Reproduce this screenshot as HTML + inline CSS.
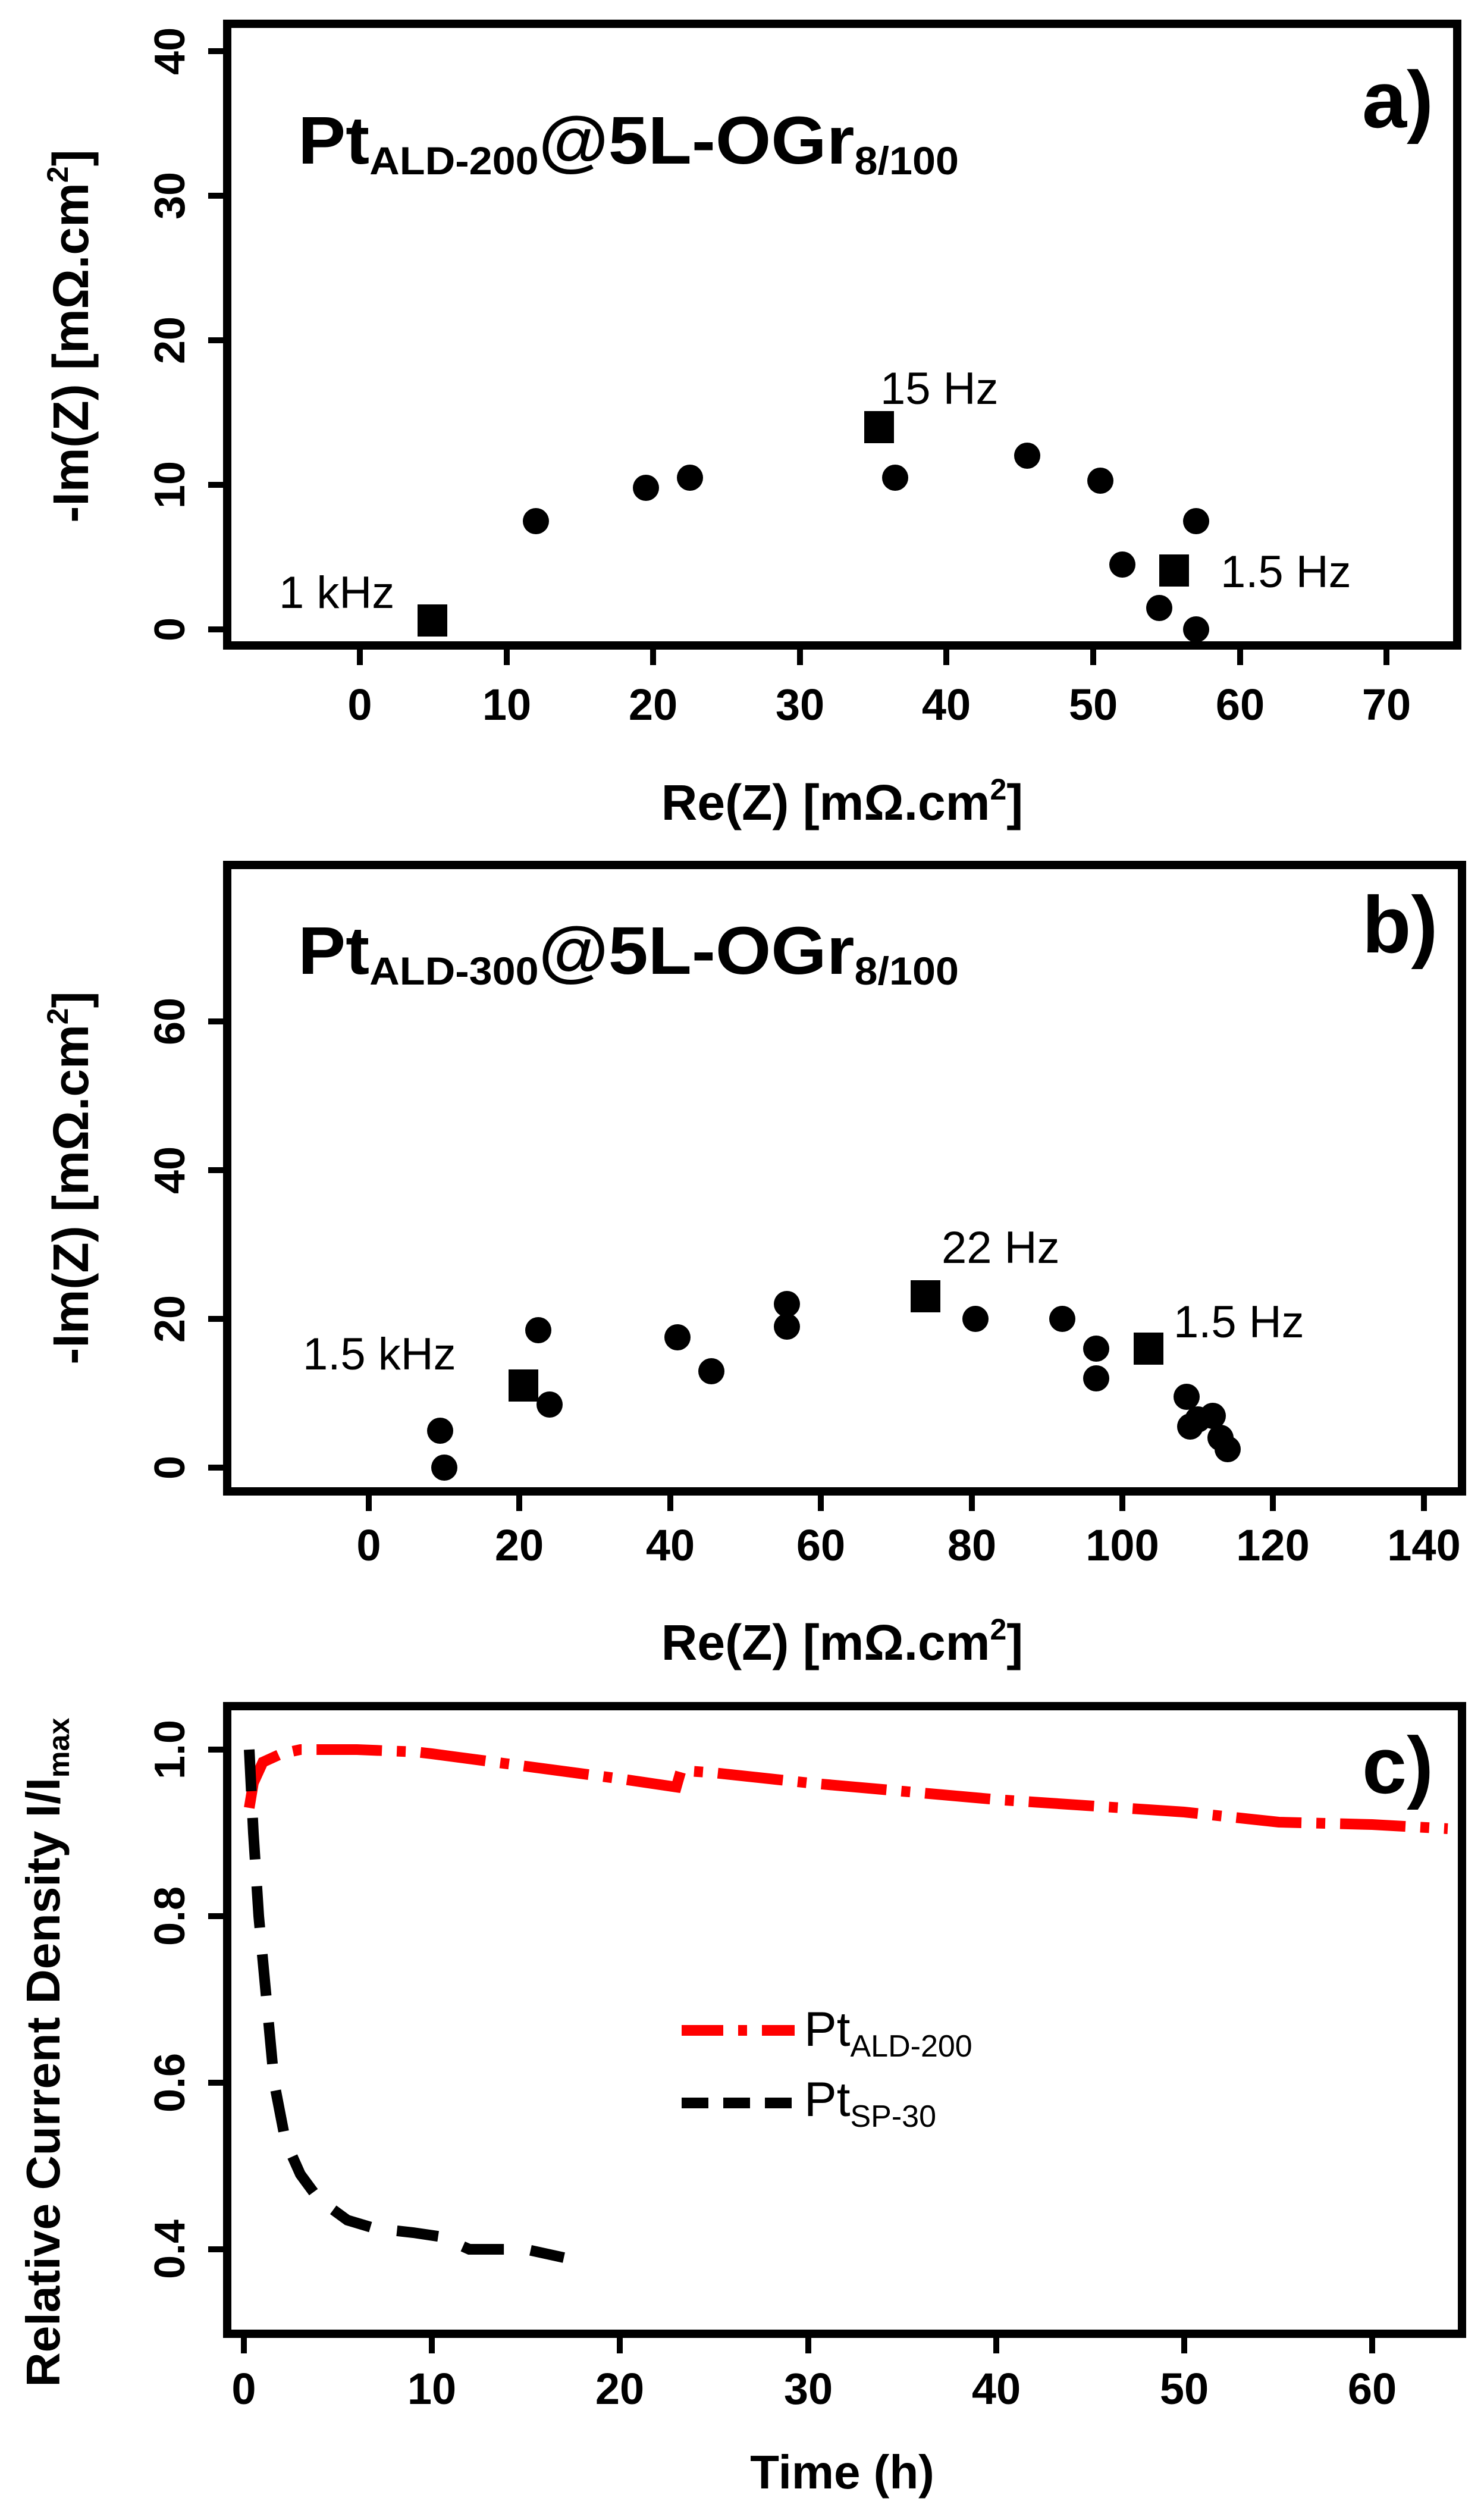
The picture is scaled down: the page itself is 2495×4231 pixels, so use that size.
<!DOCTYPE html>
<html><head><meta charset="utf-8"><style>
html,body{margin:0;padding:0;background:#fff}
svg{display:block}
text{font-family:"Liberation Sans",Arial,sans-serif;fill:#000}
.b{font-weight:bold}
</style></head><body>
<svg width="2495" height="4231" viewBox="0 0 2495 4231" xmlns="http://www.w3.org/2000/svg">
<!-- ================= PANEL A ================= -->
<g>
<rect x="382" y="40" width="2068" height="1045" fill="none" stroke="#000" stroke-width="14"/>
<g stroke="#000" stroke-width="10">
<line x1="350" y1="1058" x2="382" y2="1058"/><line x1="350" y1="815" x2="382" y2="815"/><line x1="350" y1="572" x2="382" y2="572"/><line x1="350" y1="329" x2="382" y2="329"/><line x1="350" y1="86" x2="382" y2="86"/>
</g>
<g class="b" font-size="72" text-anchor="middle">
<text transform="translate(310,1058) rotate(-90)">0</text>
<text transform="translate(310,815) rotate(-90)">10</text>
<text transform="translate(310,572) rotate(-90)">20</text>
<text transform="translate(310,329) rotate(-90)">30</text>
<text transform="translate(310,86) rotate(-90)">40</text>
</g>
<g stroke="#000" stroke-width="10">
<line x1="605" y1="1085" x2="605" y2="1118"/><line x1="852" y1="1085" x2="852" y2="1118"/><line x1="1098" y1="1085" x2="1098" y2="1118"/><line x1="1345" y1="1085" x2="1345" y2="1118"/><line x1="1591" y1="1085" x2="1591" y2="1118"/><line x1="1838" y1="1085" x2="1838" y2="1118"/><line x1="2085" y1="1085" x2="2085" y2="1118"/><line x1="2331" y1="1085" x2="2331" y2="1118"/>
</g>
<g class="b" font-size="74" text-anchor="middle">
<text x="605" y="1210">0</text><text x="852" y="1210">10</text><text x="1098" y="1210">20</text><text x="1345" y="1210">30</text><text x="1591" y="1210">40</text><text x="1838" y="1210">50</text><text x="2085" y="1210">60</text><text x="2331" y="1210">70</text>
</g>
<text class="b" x="1416" y="1378" font-size="84" text-anchor="middle">Re(Z) [mΩ.cm<tspan font-size="50" dy="-34">2</tspan><tspan dy="34">]</tspan></text>
<text class="b" transform="translate(148,565) rotate(-90)" font-size="84" text-anchor="middle">-Im(Z) [mΩ.cm<tspan font-size="50" dy="-34">2</tspan><tspan dy="34">]</tspan></text>
<text class="b" x="501" y="275" font-size="113" textLength="1111" lengthAdjust="spacingAndGlyphs">Pt<tspan font-size="66" dy="18">ALD-200</tspan><tspan dy="-18">@5L-OGr</tspan><tspan font-size="66" dy="18">8/100</tspan></text>
<text class="b" x="2290" y="214" font-size="135">a)</text>
<g fill="#000">
<circle cx="901" cy="876" r="22"/><circle cx="1086" cy="820" r="22"/><circle cx="1160" cy="803" r="22"/><circle cx="1505" cy="803" r="22"/><circle cx="1727" cy="766" r="22"/><circle cx="1850" cy="808" r="22"/><circle cx="2011" cy="876" r="22"/><circle cx="1887" cy="949" r="22"/><circle cx="1949" cy="1022" r="22"/><circle cx="2011" cy="1058" r="22"/>
<rect x="702" y="1016" width="50" height="54"/><rect x="1453" y="691" width="50" height="54"/><rect x="1949" y="932" width="50" height="54"/>
</g>
<g font-size="76">
<text x="469" y="1022">1 kHz</text><text x="1480" y="679">15 Hz</text><text x="2052" y="987">1.5 Hz</text>
</g>
</g>
<!-- ================= PANEL B ================= -->
<g>
<rect x="382" y="1454" width="2076" height="1053" fill="none" stroke="#000" stroke-width="14"/>
<g stroke="#000" stroke-width="10">
<line x1="350" y1="2467" x2="382" y2="2467"/><line x1="350" y1="2217" x2="382" y2="2217"/><line x1="350" y1="1967" x2="382" y2="1967"/><line x1="350" y1="1717" x2="382" y2="1717"/>
</g>
<g class="b" font-size="72" text-anchor="middle">
<text transform="translate(310,2467) rotate(-90)">0</text>
<text transform="translate(310,2217) rotate(-90)">20</text>
<text transform="translate(310,1967) rotate(-90)">40</text>
<text transform="translate(310,1717) rotate(-90)">60</text>
</g>
<g stroke="#000" stroke-width="10">
<line x1="620" y1="2507" x2="620" y2="2540"/><line x1="873" y1="2507" x2="873" y2="2540"/><line x1="1127" y1="2507" x2="1127" y2="2540"/><line x1="1380" y1="2507" x2="1380" y2="2540"/><line x1="1634" y1="2507" x2="1634" y2="2540"/><line x1="1887" y1="2507" x2="1887" y2="2540"/><line x1="2140" y1="2507" x2="2140" y2="2540"/><line x1="2394" y1="2507" x2="2394" y2="2540"/>
</g>
<g class="b" font-size="74" text-anchor="middle">
<text x="620" y="2623">0</text><text x="873" y="2623">20</text><text x="1127" y="2623">40</text><text x="1380" y="2623">60</text><text x="1634" y="2623">80</text><text x="1887" y="2623">100</text><text x="2140" y="2623">120</text><text x="2394" y="2623">140</text>
</g>
<text class="b" x="1416" y="2790" font-size="84" text-anchor="middle">Re(Z) [mΩ.cm<tspan font-size="50" dy="-34">2</tspan><tspan dy="34">]</tspan></text>
<text class="b" transform="translate(148,1980) rotate(-90)" font-size="84" text-anchor="middle">-Im(Z) [mΩ.cm<tspan font-size="50" dy="-34">2</tspan><tspan dy="34">]</tspan></text>
<text class="b" x="501" y="1637" font-size="113" textLength="1111" lengthAdjust="spacingAndGlyphs">Pt<tspan font-size="66" dy="18">ALD-300</tspan><tspan dy="-18">@5L-OGr</tspan><tspan font-size="66" dy="18">8/100</tspan></text>
<text class="b" x="2290" y="1601" font-size="135">b)</text>
<g fill="#000">
<circle cx="740" cy="2405" r="22"/><circle cx="747" cy="2467" r="22"/><circle cx="905" cy="2236" r="22"/><circle cx="924" cy="2361" r="22"/><circle cx="1139" cy="2248" r="22"/><circle cx="1196" cy="2305" r="22"/><circle cx="1323" cy="2192" r="22"/><circle cx="1323" cy="2230" r="22"/><circle cx="1640" cy="2217" r="22"/><circle cx="1786" cy="2217" r="22"/><circle cx="1843" cy="2267" r="22"/><circle cx="1843" cy="2317" r="22"/><circle cx="1995" cy="2348" r="22"/><circle cx="2001" cy="2398" r="22"/><circle cx="2039" cy="2380" r="22"/><circle cx="2052" cy="2417" r="22"/><circle cx="2064" cy="2436" r="22"/><circle cx="2014" cy="2386" r="22"/>
<rect x="855" y="2302" width="50" height="54"/><rect x="1531" y="2152" width="50" height="54"/><rect x="1906" y="2240" width="50" height="54"/>
</g>
<g font-size="76">
<text x="509" y="2302">1.5 kHz</text><text x="1583" y="2123">22 Hz</text><text x="1973" y="2248">1.5 Hz</text>
</g>
</g>
<!-- ================= PANEL C ================= -->
<g>
<rect x="382" y="2868" width="2076" height="1055" fill="none" stroke="#000" stroke-width="14"/>
<g stroke="#000" stroke-width="10">
<line x1="350" y1="2941" x2="382" y2="2941"/><line x1="350" y1="3221" x2="382" y2="3221"/><line x1="350" y1="3501" x2="382" y2="3501"/><line x1="350" y1="3781" x2="382" y2="3781"/>
</g>
<g class="b" font-size="72" text-anchor="middle">
<text transform="translate(310,2941) rotate(-90)">1.0</text>
<text transform="translate(310,3221) rotate(-90)">0.8</text>
<text transform="translate(310,3501) rotate(-90)">0.6</text>
<text transform="translate(310,3781) rotate(-90)">0.4</text>
</g>
<g stroke="#000" stroke-width="10">
<line x1="410" y1="3923" x2="410" y2="3956"/><line x1="726" y1="3923" x2="726" y2="3956"/><line x1="1042" y1="3923" x2="1042" y2="3956"/><line x1="1359" y1="3923" x2="1359" y2="3956"/><line x1="1675" y1="3923" x2="1675" y2="3956"/><line x1="1991" y1="3923" x2="1991" y2="3956"/><line x1="2307" y1="3923" x2="2307" y2="3956"/>
</g>
<g class="b" font-size="74" text-anchor="middle">
<text x="410" y="4041">0</text><text x="726" y="4041">10</text><text x="1042" y="4041">20</text><text x="1359" y="4041">30</text><text x="1675" y="4041">40</text><text x="1991" y="4041">50</text><text x="2307" y="4041">60</text>
</g>
<text class="b" x="1416" y="4183" font-size="80" text-anchor="middle">Time (h)</text>
<text class="b" transform="translate(100,3450) rotate(-90)" font-size="80" text-anchor="middle" textLength="1125" lengthAdjust="spacingAndGlyphs">Relative Current Density I/I<tspan font-size="50" dy="16">max</tspan></text>
<text class="b" x="2290" y="3014" font-size="135">c)</text>
<polyline fill="none" stroke="#f00" stroke-width="18" stroke-dasharray="110,25,15,25"
points="419,3039 426,2997 442,2962 473,2948 505,2941 600,2941 700,2945 726,2948 884,2969 1042,2990 1137,3004 1145,2976 1200,2980 1359,2997 1675,3025 1991,3046 2150,3063 2307,3067 2434,3074"/>
<polyline fill="none" stroke="#000" stroke-width="18" stroke-dasharray="70,45"
points="419,2941 426,3081 435,3221 448,3361 461,3501 480,3599 505,3655 536,3697 584,3732 631,3746 695,3753 742,3760 789,3781 884,3781 916,3788 948,3795"/>
<line x1="1146" y1="3413" x2="1336" y2="3413" stroke="#f00" stroke-width="18" stroke-dasharray="70,25,15,25"/>
<line x1="1146" y1="3535" x2="1336" y2="3535" stroke="#000" stroke-width="18" stroke-dasharray="45,25"/>
<text x="1352" y="3439" font-size="82">Pt<tspan font-size="52" dy="18">ALD-200</tspan></text>
<text x="1352" y="3557" font-size="82">Pt<tspan font-size="52" dy="18">SP-30</tspan></text>
</g>
</svg>
</body></html>
